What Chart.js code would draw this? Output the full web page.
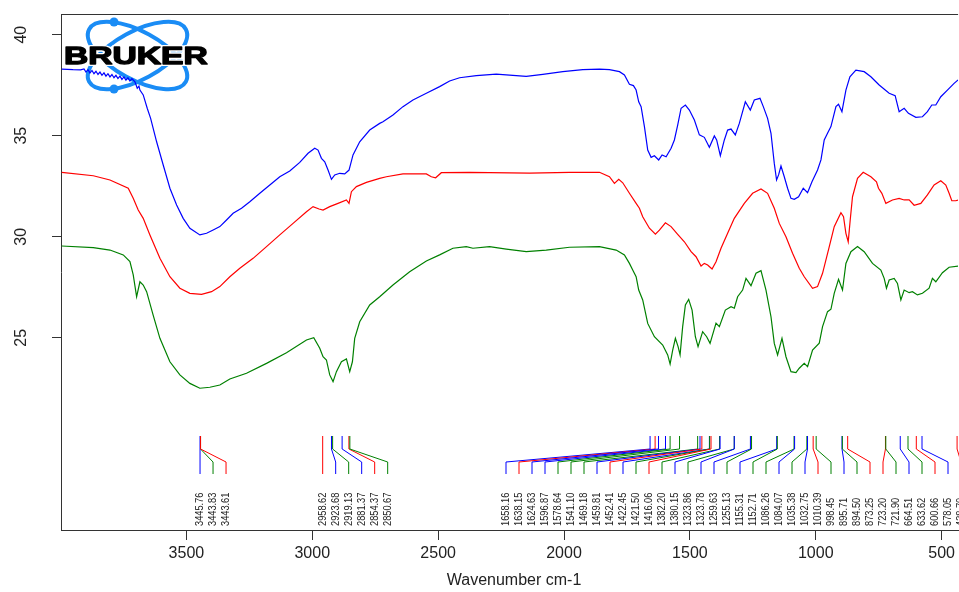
<!DOCTYPE html>
<html><head><meta charset="utf-8">
<script src="https://cdn.jsdelivr.net/npm/chart.js@4.4.1/dist/chart.umd.min.js"></script>
<style>html,body{margin:0;padding:0;background:#fff;overflow:hidden}</style>
</head><body>
<canvas id="c" width="959" height="592"></canvas>
<script>
// ---------- data ----------
const xTitle = 'Wavenumber cm-1';
const xTicks = [3500, 3000, 2500, 2000, 1500, 1000, 500];
const yTicks = [25, 30, 35, 40];

const blueWn = [3995,3950,3920,3906.7,3898.8,3890.8,3882.9,3874.9,3867.0,3859.1,
3851.1,3843.2,3835.3,3827.3,3819.4,3811.5,3803.5,3795.6,3787.6,3779.7,
3771.8,3763.8,3755.9,3748.0,3740.0,3732.1,3724.2,3716.2,
3704.3,3695.2,3688.4,3684.5,3671.4,3655.5,
3642.0,3618.2,3592.0,3565.4,3538.8,3512.7,3486.1,3446.4,3419.8,3393.6,
3367.0,3340.5,3314.3,3280.9,3248.0,3208.3,3168.6,3129.0,3089.3,3049.6,
3016.7,2990.1,2977.0,2963.5,2950.4,2937.3,2923.8,2910.7,2890.9,2871.0,
2853.9,2838.1,2811.5,2771.8,2732.2,2719.1,2679.4,2639.7,2600.0,2546.8,
2494.1,2454.4,2414.7,2348.4,2269.1,2216.3,2150.1,2084.2,2004.8,1925.5,
1859.2,1819.5,1779.8,1760.0,1740.2,1724.3,1713.6,1703.3,1693.8,1680.6,
1667.5,1654.0,1641.0,1623.9,1610.4,1594.5,1574.7,1561.6,1548.5,1535.0,
1517.9,1502.1,1482.2,1462.4,1442.6,1422.7,1402.9,1393.7,1379.1,1363.2,
1350.1,1336.6,1319.6,1303.7,1279.8,1260.0,1244.2,1221.6,1208.4,1191.4,
1177.9,1164.8,1155.7,1147.7,1138.2,1125.1,1112.0,1098.5,1085.4,1068.3,
1049.7,1032.6,1015.1,992.9,979.4,966.4,953.3,939.8,919.9,909.6,
896.1,880.3,864.5,840.7,807.7,781.1,748.2,708.5,684.7,668.8,
648.9,631.9,602.5,576.3,556.5,539.1,523.2,503.4,477.1,450.6,434.7];
const blueVal = [38.30,38.27,38.26,38.31,38.15,38.27,38.11,38.23,38.07,38.19,
38.03,38.15,37.99,38.11,37.95,38.07,37.91,38.03,37.87,37.99,
37.83,37.95,37.79,37.91,37.75,37.87,37.71,37.83,
37.67,37.35,37.46,37.26,37.02,36.36,
35.86,34.70,33.55,32.40,31.57,30.91,30.42,30.09,30.17,30.33,
30.50,30.83,31.16,31.41,31.73,32.15,32.56,32.97,33.25,33.68,
34.13,34.38,34.29,33.88,33.71,33.30,32.84,33.06,33.14,33.11,
33.30,34.05,34.70,35.28,35.61,35.69,36.03,36.44,36.77,37.10,
37.43,37.71,37.87,37.97,38.05,38.00,37.94,38.04,38.17,38.27,
38.30,38.27,38.17,38.01,37.55,37.48,37.26,36.68,36.44,35.45,
34.29,33.93,34.01,33.80,34.05,33.96,34.38,34.79,35.53,36.36,
36.52,36.27,35.78,35.04,34.92,34.43,34.99,34.79,34.01,34.79,
35.28,35.33,35.04,35.61,36.68,36.27,36.77,36.85,36.44,35.86,
35.12,33.63,32.81,33.06,33.50,32.97,32.40,31.90,31.85,31.98,
32.40,32.18,32.72,33.30,33.80,34.79,35.12,35.45,36.44,36.56,
36.19,37.26,37.92,38.25,38.17,37.92,37.51,37.10,36.98,36.19,
36.36,36.11,35.91,35.94,36.19,36.52,36.52,36.93,37.26,37.59,37.76];

const redWn = [3995.2,3869.8,3803.5,3730.9,3711.1,3691.3,3671.4,3644.8,3605.1,3565.4,
3525.8,3486.1,3439.7,3400.0,3367.0,3327.4,3287.7,3234.9,3181.7,3129.0,
3076.2,3023.0,2996.8,2973.0,2957.2,2930.6,2897.7,2864.3,2854.0,2844.5,
2824.6,2784.9,2732.2,2705.6,2639.7,2546.8,2527.0,2509.9,2487.3,2375.0,
2136.9,1978.2,1859.2,1819.5,1799.7,1782.6,1766.7,1740.2,1713.6,1700.5,
1687.4,1660.8,1637.0,1621.1,1597.3,1574.7,1548.5,1521.9,1495.3,1475.6,
1455.7,1442.6,1429.5,1412.0,1396.2,1376.4,1350.1,1323.6,1283.9,1250.9,
1217.6,1191.4,1164.8,1144.9,1118.4,1092.2,1065.6,1045.8,1012.8,993.0,
973.1,946.6,926.7,900.1,889.8,880.3,871.1,863.2,854.1,834.2,
811.6,781.1,758.9,750.9,737.5,721.6,695.4,668.8,648.9,629.1,
609.3,582.7,556.5,530.0,503.4,483.5,470.4,459.7,443.8,434.7];
const redVal = [33.19,33.02,32.81,32.40,31.90,31.32,30.91,30.09,28.93,28.02,
27.45,27.20,27.15,27.28,27.53,28.02,28.44,28.93,29.51,30.09,
30.66,31.24,31.49,31.37,31.32,31.49,31.65,31.82,31.65,32.23,
32.48,32.69,32.89,32.97,33.11,33.11,32.97,32.92,33.17,33.19,
33.15,33.19,33.19,32.97,32.64,32.84,32.67,32.15,31.65,31.41,
30.99,30.42,30.13,30.33,30.69,30.50,30.12,29.75,29.26,29.01,
28.55,28.68,28.60,28.40,28.76,29.43,30.17,30.91,31.65,32.15,
32.36,32.15,31.41,30.66,30.00,29.18,28.44,28.02,27.45,27.53,
28.19,29.50,30.50,31.19,30.99,30.17,29.75,30.83,31.98,32.89,
33.19,32.97,32.72,32.40,32.15,31.65,31.82,31.90,31.82,31.82,
31.56,31.65,32.07,32.56,32.77,32.56,32.15,31.78,31.78,31.82];

const greenWn = [3995.2,3869.8,3803.5,3750.7,3724.2,3711.1,3697.6,3684.5,3671.4,3657.9,
3631.7,3605.1,3565.4,3525.8,3486.1,3446.4,3406.7,3367.0,3327.4,3261.1,
3181.7,3102.4,3023.0,2994.0,2970.2,2957.2,2943.7,2930.6,2917.4,2904.0,
2884.1,2864.3,2851.2,2840.5,2831.4,2811.5,2771.8,2732.2,2679.4,2613.1,
2546.8,2494.1,2441.3,2388.1,2361.9,2295.7,2229.4,2150.1,2070.7,1978.2,
1859.2,1792.9,1760.0,1740.2,1727.1,1713.6,1703.3,1687.4,1667.5,1641.0,
1608.0,1588.2,1578.6,1568.3,1557.6,1546.9,1539.0,1528.7,1517.9,1504.8,
1491.3,1478.3,1467.6,1449.3,1433.4,1419.9,1396.2,1383.0,1359.2,1336.6,
1323.5,1310.4,1290.6,1277.1,1257.3,1237.4,1217.6,1197.8,1177.9,1164.8,
1151.7,1134.2,1118.4,1098.5,1078.7,1065.6,1045.8,1032.6,1012.8,986.2,
973.1,953.3,939.8,926.7,909.6,893.8,880.3,860.4,834.2,807.7,
774.7,741.5,728.3,719.2,708.5,688.6,675.5,662.0,648.9,629.1,
615.9,596.1,576.3,549.8,536.6,523.2,496.9,470.4,434.7];
const greenVal = [29.54,29.46,29.34,29.10,28.77,28.11,27.03,27.77,27.61,27.28,
26.11,24.97,23.81,23.16,22.74,22.50,22.55,22.66,22.96,23.24,
23.73,24.26,24.89,25.00,24.48,24.06,23.90,23.16,22.83,23.32,
23.81,23.95,23.32,23.81,24.97,25.79,26.62,27.03,27.61,28.27,
28.80,29.10,29.43,29.51,29.43,29.51,29.39,29.26,29.34,29.48,
29.51,29.34,29.10,28.68,28.35,28.02,27.36,26.87,25.71,25.05,
24.64,24.15,23.70,24.39,24.97,24.56,24.15,25.55,26.62,26.90,
26.37,25.05,24.56,25.30,25.05,24.72,25.72,25.55,26.37,26.54,
26.46,27.03,27.36,27.94,27.58,28.19,28.32,27.36,26.04,24.72,
24.15,24.97,24.06,23.32,23.27,23.49,23.73,23.57,24.39,24.73,
25.55,26.29,26.41,27.20,27.89,27.36,28.68,29.26,29.51,29.26,
28.68,28.35,27.94,27.45,27.86,27.94,27.69,26.87,27.36,27.23,
27.28,27.12,27.20,27.45,27.94,27.77,28.22,28.49,28.55];

// peak picks (wavenumber) and which spectrum they belong to
const peakWn = [3445.76,3443.83,3443.61,
2958.62,2923.68,2919.13,2881.37,2854.37,2850.67,
1658.16,1638.15,1624.63,1596.87,1578.64,1541.10,1469.18,1459.81,1452.41,1422.45,
1421.50,1416.06,1382.20,1380.15,1323.86,1323.78,1259.63,1255.13,1155.31,1152.71,
1086.26,1084.07,1035.38,1032.75,1010.39,998.45,895.71,894.50,873.25,723.20,
721.90,664.51,633.62,600.66,578.05,438.70];
const peakSeries = ['b','g','r',
'r','b','g','b','r','g',
'b','r','b','b','g','g','g','b','r','b',
'g','r','g','b','g','b','b','g','b','g',
'g','b','g','b','r','g','b','g','r','r',
'g','b','g','r','b','r'];

// ---------- styling / layout ----------
const COLORS = {b: '#0000ff', r: '#ff0000', g: '#008000'};
const AXIS = '#333333';
const FONT = '"Liberation Sans", Arial, Helvetica, sans-serif';

const toPts = (w, v) => w.map((x, i) => ({x: x, y: v[i]}));

function drawLogo(ctx) {
  ctx.save();
  const cx = 137.5, cy = 55.5;
  ctx.strokeStyle = '#1a8cf5';
  ctx.lineWidth = 4;
  ctx.beginPath(); ctx.ellipse(cx, cy, 55, 24, Math.PI / 6.3, 0, Math.PI * 2); ctx.stroke();
  ctx.beginPath(); ctx.ellipse(cx, cy, 55, 24, -Math.PI / 6.3, 0, Math.PI * 2); ctx.stroke();
  ctx.fillStyle = '#1a8cf5';
  ctx.beginPath(); ctx.arc(114, 22, 4.5, 0, Math.PI * 2); ctx.fill();
  ctx.beginPath(); ctx.arc(114, 89, 4.5, 0, Math.PI * 2); ctx.fill();
  ctx.translate(64, 63.5);
  ctx.scale(1.4, 1);
  ctx.font = 'bold 24px ' + FONT;
  ctx.textAlign = 'left';
  ctx.textBaseline = 'alphabetic';
  ctx.lineJoin = 'round';
  ctx.lineWidth = 4; ctx.strokeStyle = '#ffffff';
  ctx.strokeText('BRUKER', 0, 0);
  ctx.fillStyle = '#000000';
  ctx.fillText('BRUKER', 0, 0);
  ctx.lineWidth = 1.3; ctx.strokeStyle = '#000000';
  ctx.strokeText('BRUKER', 0, 0);
  ctx.restore();
}

const decor = {
  id: 'decor',
  beforeDatasetsDraw(chart) { drawLogo(chart.ctx); },
  afterDraw(chart) {
    const ctx = chart.ctx, a = chart.chartArea, xs = chart.scales.x, ys = chart.scales.y;
    ctx.save();
    // top frame line
    ctx.strokeStyle = AXIS; ctx.lineWidth = 1;
    ctx.beginPath(); ctx.moveTo(a.left, Math.round(a.top) + 0.5); ctx.lineTo(a.right, Math.round(a.top) + 0.5); ctx.stroke();
    // rotated y tick labels
    ctx.fillStyle = '#222';
    ctx.font = '16px ' + FONT;
    ctx.textAlign = 'center'; ctx.textBaseline = 'middle';
    yTicks.forEach(v => {
      const py = ys.getPixelForValue(v);
      ctx.save(); ctx.translate(22, py); ctx.rotate(-Math.PI / 2); ctx.fillText(String(v), 0, 0); ctx.restore();
    });
    // axis title
    ctx.fillText(xTitle, 514, 581);
    // peak annotations
    const groups = [];
    peakWn.forEach((w, i) => {
      if (i === 0 || peakWn[i - 1] - w > 300) groups.push([]);
      groups[groups.length - 1].push(i);
    });
    const groupStartPx = [null, null, 506];
    const gap = 13, yTop = 436, yB1 = 449, yB2 = 462, yBot = 474, yText = 526;
    ctx.lineWidth = 1;
    groups.forEach((g, gi) => {
      const first = xs.getPixelForValue(peakWn[g[0]]);
      const start = groupStartPx[gi] != null ? groupStartPx[gi] : first;
      g.forEach((idx, k) => {
        const px = xs.getPixelForValue(peakWn[idx]);
        const lx = start + k * gap;
        ctx.strokeStyle = COLORS[peakSeries[idx]];
        ctx.beginPath();
        ctx.moveTo(px, yTop); ctx.lineTo(px, yB1); ctx.lineTo(lx, yB2); ctx.lineTo(lx, yBot);
        ctx.stroke();
        ctx.save();
        ctx.translate(lx, yText); ctx.rotate(-Math.PI / 2); ctx.scale(0.88, 1);
        ctx.font = '10.5px ' + FONT; ctx.fillStyle = '#222';
        ctx.textAlign = 'left'; ctx.textBaseline = 'middle';
        ctx.fillText(peakWn[idx].toFixed(2), 0, 0);
        ctx.restore();
      });
    });
    ctx.restore();
  }
};

new Chart(document.getElementById('c'), {
  type: 'line',
  data: {
    datasets: [
      {label: 'green', data: toPts(greenWn, greenVal), borderColor: COLORS.g},
      {label: 'red', data: toPts(redWn, redVal), borderColor: COLORS.r},
      {label: 'blue', data: toPts(blueWn, blueVal), borderColor: COLORS.b}
    ]
  },
  options: {
    responsive: false, animation: false, devicePixelRatio: 1,
    parsing: false,
    layout: {padding: {top: 14, left: 0, right: 0, bottom: 0}},
    plugins: {legend: {display: false}, tooltip: {enabled: false}},
    elements: {point: {radius: 0}, line: {tension: 0, borderWidth: 1.2, fill: false}},
    scales: {
      x: {
        type: 'linear', reverse: true, min: 434.7, max: 3998, position: 'bottom',
        afterFit(s) { s.height = 62; },
        afterBuildTicks(s) { s.ticks = xTicks.map(v => ({value: v})); },
        grid: {drawOnChartArea: false, drawTicks: true, tickLength: 10, color: AXIS, lineWidth: 1},
        border: {display: true, color: AXIS, width: 1},
        ticks: {font: {family: FONT, size: 16}, color: '#222', padding: 4, maxRotation: 0, minRotation: 0, autoSkip: false, callback: v => String(v)}
      },
      y: {
        type: 'linear', min: 15.483, max: 41.025,
        afterFit(s) { s.width = 61; },
        afterBuildTicks(s) { s.ticks = yTicks.map(v => ({value: v})); },
        grid: {drawOnChartArea: false, drawTicks: true, tickLength: 9, color: AXIS, lineWidth: 1},
        border: {display: true, color: AXIS, width: 1},
        ticks: {display: false}
      }
    }
  },
  plugins: [decor]
});
</script>
</body></html>
